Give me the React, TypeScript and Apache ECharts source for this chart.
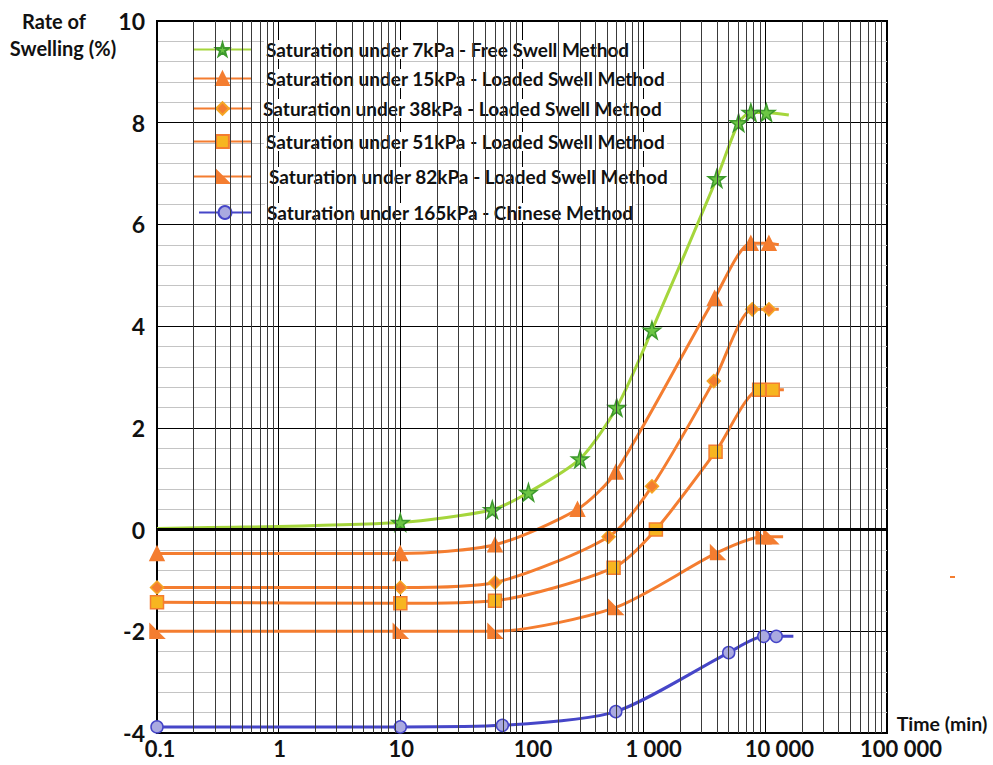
import React, { useEffect, useRef } from "react";
import * as echarts from "echarts";

// ---- data ----
const X_LABELS = ["0.1", "1", "10", "100", "1 000", "10 000", "100 000"];
const Y_TICKS = [-4, -2, 0, 2, 4, 6, 8, 10];

const NAMES = [
  "Saturation under 7kPa - Free Swell Method",
  "Saturation under 15kPa - Loaded Swell Method",
  "Saturation under 38kPa - Loaded Swell Method",
  "Saturation under 51kPa - Loaded Swell Method",
  "Saturation under 82kPa - Loaded Swell Method",
  "Saturation under 165kPa - Chinese Method",
];

const X_7 = [0.1, 10, 57, 113, 300, 600, 1170, 3980, 6030, 7600, 10200, 15600];
const Y_7 = [0.02, 0.14, 0.39, 0.73, 1.39, 2.4, 3.92, 6.9, 8.0, 8.2, 8.2, 8.15];

const X_15 = [0.1, 10, 60, 286, 590, 3830, 7600, 10700, 12900];
const Y_15 = [-0.47, -0.47, -0.3, 0.4, 1.13, 4.55, 5.63, 5.63, 5.6];

const X_38 = [0.1, 10, 60, 515, 1170, 3770, 7800, 10700, 12900];
const Y_38 = [-1.14, -1.14, -1.04, -0.14, 0.85, 2.92, 4.33, 4.33, 4.33];

const X_51 = [0.1, 10, 60, 566, 1260, 3900, 8900, 11500, 14200];
const Y_51 = [-1.43, -1.45, -1.4, -0.75, 0.0, 1.53, 2.75, 2.75, 2.75];

const X_82 = [0.1, 10, 60, 590, 4050, 9600, 11100, 14000];
const Y_82 = [-2.0, -2.0, -2.0, -1.53, -0.45, -0.14, -0.14, -0.14];

const X_165 = [0.1, 10, 69, 590, 5000, 9700, 12300, 17000];
const Y_165 = [-3.88, -3.88, -3.85, -3.58, -2.42, -2.1, -2.1, -2.1];

const MINOR_MULTS = [2, 3, 4, 5, 6, 7, 8, 9];
const DECADES = [0.1, 1, 10, 100, 1000, 10000];

// ---- styles ----
const FONT = "Lato";
const ORANGE = "#f47d30";
const STAR = "path://M50,0 L61,35 L98,35 L68,57 L79,91 L50,70 L21,91 L32,57 L2,35 L39,35 Z";
const RTRI = "path://M0,0 L10,12 L0,12 Z";
// horizontal nudge of each x label (px), as in the reference
const X_LABEL_SHIFT: Record<string, number> = { "0.1": 3, "1": 1, "10": 1, "100": 11, "1 000": 10, "10 000": 14, "100 000": 14 };

function fmtX(v: number): string {
  const r = Number(v.toPrecision(6));
  if (r < 1) return String(r);
  return String(Math.round(r)).replace(/\B(?=(\d{3})+(?!\d))/g, " ");
}

function build(xs: number[], ys: number[], skipFirst: boolean) {
  return xs.map((x, i) => {
    const hide = i === xs.length - 1 || (skipFirst && i === 0);
    return hide ? { value: [x, ys[i]], symbol: "none" } : { value: [x, ys[i]] };
  });
}

export default function App() {
  const ref = useRef<HTMLDivElement>(null);
  useEffect(() => {
    if (!ref.current) return;
    const chart = echarts.init(ref.current, undefined, { renderer: "svg" });

    const minorXs: number[] = [];
    DECADES.forEach((d) => MINOR_MULTS.forEach((m) => minorXs.push(d * m)));

    const seriesDefs = [
      { name: NAMES[0], xs: X_7, ys: Y_7, skip: true, color: "#a5d63c", symbol: STAR, size: 17, fill: "#6cc644", border: "#3d9a2c" },
      { name: NAMES[1], xs: X_15, ys: Y_15, skip: false, color: ORANGE, symbol: "triangle", size: 14, fill: ORANGE, border: ORANGE },
      { name: NAMES[2], xs: X_38, ys: Y_38, skip: false, color: ORANGE, symbol: "diamond", size: 13, fill: ORANGE, border: "#f5a623" },
      { name: NAMES[3], xs: X_51, ys: Y_51, skip: false, color: ORANGE, symbol: "rect", size: 13, fill: "#f7b520", border: ORANGE },
      { name: NAMES[4], xs: X_82, ys: Y_82, skip: false, color: ORANGE, symbol: RTRI, size: 14, fill: ORANGE, border: ORANGE },
      { name: NAMES[5], xs: X_165, ys: Y_165, skip: false, color: "#4646c8", symbol: "circle", size: 12, fill: "#aaaae0", border: "#4646c8" },
    ];

    const series: any[] = [
      {
        type: "line",
        name: "grid",
        data: [],
        silent: true,
        z: 1,
        markLine: {
          silent: true,
          symbol: "none",
          label: { show: false },
          data: [
            ...minorXs.map((x) => ({ xAxis: x, lineStyle: { color: "#3a3a3a", width: 1, type: "solid" } })),
            { yAxis: 0, lineStyle: { color: "#000", width: 3, type: "solid" } },
          ],
        },
      },
      ...seriesDefs.map((s) => ({
        type: "line",
        name: s.name,
        data: build(s.xs, s.ys, s.skip),
        smooth: 0.25,
        symbol: s.symbol,
        symbolSize: s.size,
        showAllSymbol: true,
        z: 3,
        lineStyle: { color: s.color, width: 3 },
        itemStyle: { color: s.fill, borderColor: s.border, borderWidth: 1.5 },
      })),
    ];

    const legendCenters = [50, 79, 109, 142, 177, 213];
    const legendLefts = [193, 193, 193, 193, 193, 198];
    const textStart = [265, 265, 262, 265, 268, 266];
    const LEG_FS = 19;
    const legends = seriesDefs.map((s, i) => {
      const iconW = 57 - (i === 5 ? 5 : 0);
      const gap = textStart[i] - (legendLefts[i] + iconW + 5);
      return {
        data: [s.name],
        left: legendLefts[i],
        top: legendCenters[i] - 10,
        padding: 0,
        itemWidth: iconW,
        itemHeight: 16,
        itemGap: 0,
        selectedMode: false,
        formatter: (n: string) => `{t|${n}}`,
        textStyle: {
          fontFamily: FONT,
          fontWeight: "bold",
          fontSize: LEG_FS,
          color: "#111",
          padding: [0, 0, 0, Math.max(0, gap - 2)],
          rich: {
            t: {
              fontFamily: FONT,
              fontWeight: "bold",
              fontSize: LEG_FS,
              lineHeight: 21,
              color: "#111",
              backgroundColor: "#fff",
              padding: [0, 2],
            },
          },
        },
      };
    });

    chart.setOption({
      animation: false,
      backgroundColor: "#fff",
      grid: { left: 157, right: 106, top: 21, bottom: 32, show: true, borderColor: "#000", borderWidth: 2 },
      legend: legends,
      xAxis: {
        type: "log",
        logBase: 10,
        min: 0.1,
        max: 100000,
        axisLine: { show: true, lineStyle: { color: "#000", width: 2 } },
        axisTick: { show: false },
        splitLine: { show: true, lineStyle: { color: "#000", width: 1 } },
        axisLabel: {
          margin: 4,
          fontFamily: FONT,
          fontWeight: "bold",
          fontSize: 22,
          color: "#111",
          formatter: (v: number) => {
            const s = fmtX(v);
            if (!X_LABELS.includes(s)) return "";
            const sh = X_LABEL_SHIFT[s] || 0;
            return `{p${sh}|${s}}`;
          },
          rich: Object.fromEntries(
            Object.values(X_LABEL_SHIFT).map((sh) => [
              `p${sh}`,
              { fontFamily: FONT, fontWeight: "bold", fontSize: 22, color: "#111", padding: [0, 0, 0, sh * 2] },
            ])
          ),
        },
      },
      yAxis: {
        type: "value",
        min: Y_TICKS[0],
        max: Y_TICKS[Y_TICKS.length - 1],
        interval: 2,
        axisLine: { show: true, lineStyle: { color: "#000", width: 2 } },
        axisTick: { show: false },
        splitLine: { show: true, lineStyle: { color: "#000", width: 1 } },
        minorTick: { show: false, splitNumber: 5 },
        minorSplitLine: { show: true, lineStyle: { color: "#c4c4c4", width: 1 } },
        axisLabel: {
          margin: 12,
          fontFamily: FONT,
          fontWeight: "bold",
          fontSize: 23,
          color: "#111",
        },
      },
      graphic: [
        { type: "text", x: 54, y: 21, style: { text: "Rate of", font: `bold 20px ${FONT}`, fill: "#111", textAlign: "center", textVerticalAlign: "middle" } },
        { type: "text", x: 63, y: 48, style: { text: "Swelling (%)", font: `bold 20px ${FONT}`, fill: "#111", textAlign: "center", textVerticalAlign: "middle" } },
        { type: "text", x: 942, y: 723, style: { text: "Time (min)", font: `bold 19.5px ${FONT}`, fill: "#111", textAlign: "center", textVerticalAlign: "middle" } },
        { type: "rect", shape: { x: 950, y: 576, width: 5, height: 2 }, style: { fill: ORANGE } },
      ],
      series,
    });
    return () => chart.dispose();
  }, []);
  return <div ref={ref} style={{ width: 993, height: 765, position: "absolute", left: 0, top: 0 }} />;
}
